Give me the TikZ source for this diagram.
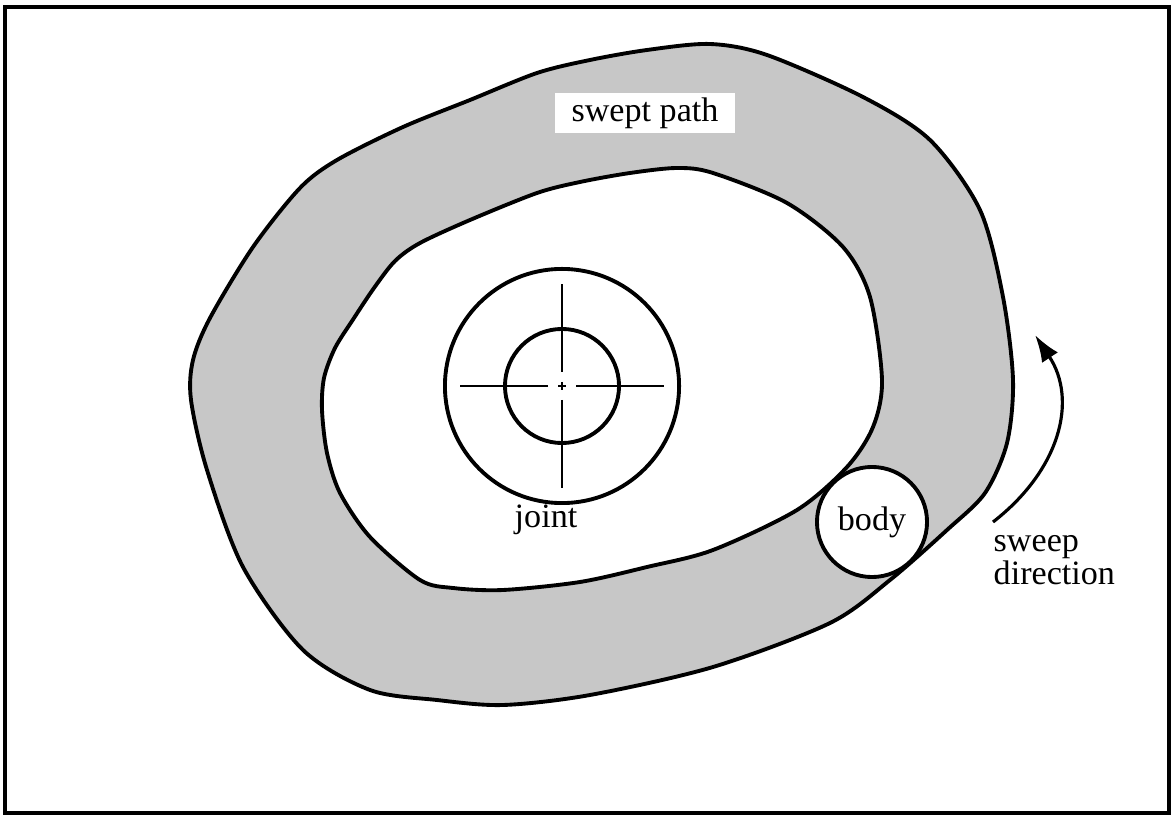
\documentclass[tikz,border=0pt]{standalone}
\usepackage{fontspec}
\setmainfont{Liberation Serif}
\usetikzlibrary{arrows.meta}

\begin{document}
\begin{tikzpicture}[x=0.01cm, y=-0.01cm,
  font=\fontsize{9.7}{9.4}\selectfont,
  outline/.style={line width=1.1pt},
  cross/.style={line width=0.7pt},
  ring/.style={circle, draw, line width=1.1pt, inner sep=0pt}]
  \useasboundingbox (0,0) rectangle (1173,816);
  \draw[line width=1.1pt] (5,7) rectangle (1169,813);
  % swept region between outer and inner boundary
  \filldraw[outline, fill=black!22, even odd rule]
    plot[smooth cycle] coordinates {(537,73) (590,60) (647,50) (710,44) (767,55)
      (863,97) (930,140) (980,210) (1003,297) (1013,380) (1007,443) (985,493)
      (947,530) (890,580) (830,623) (713,667) (590,695) (503,705) (437,700)
      (370,690) (303,650) (243,567) (207,470) (191,400) (193,360) (210,318)
      (253,247) (300,188) (337,160) (403,127) (470,100)}
    plot[smooth cycle] coordinates {(580,182) (630,173) (677,168) (713,173)
      (787,203) (843,247) (870,297) (882,380) (873,427) (847,467) (797,510)
      (713,550) (647,567) (580,582) (503,590) (453,588) (420,580) (370,537)
      (340,493) (327,453) (322,410) (324,378) (335,348) (354,318) (374,288)
      (395,261) (420,243) (470,220) (537,193)};
  \node[fill=white, minimum width=1.8cm, minimum height=0.4cm, inner sep=0pt]
    (swept) at (645,113) {swept path};
  % joint
  \node[ring, minimum size=2.34cm] (hub) at (562,386) {};
  \node[ring, minimum size=1.14cm] (hubin) at (562,386) {};
  \foreach \a in {0,90,180,270}
    \draw[cross] (hub.center) ++(\a:14) -- ++(\a:88);
  \draw[cross] (hub.center) ++(-4,0) -- ++(8,0) (hub.center) ++(0,-4) -- ++(0,8);
  \node (joint) at (546,520) {joint};
  % body and sweep
  \node[ring, fill=white, minimum size=1.1cm] (body) at (872,522) {body};
  \coordinate (sweepstart) at (993,522);
  \coordinate (sweepend) at (1035,335);
  \draw[line width=0.9pt, -{Latex[length=2.7mm,width=1.9mm]}]
    (sweepstart) .. controls (1060,470) and (1078,400) .. (sweepend);
  \node[anchor=north west, align=left, inner sep=0pt] (dir) at (993,535) {sweep\\direction};
\end{tikzpicture}
\end{document}
